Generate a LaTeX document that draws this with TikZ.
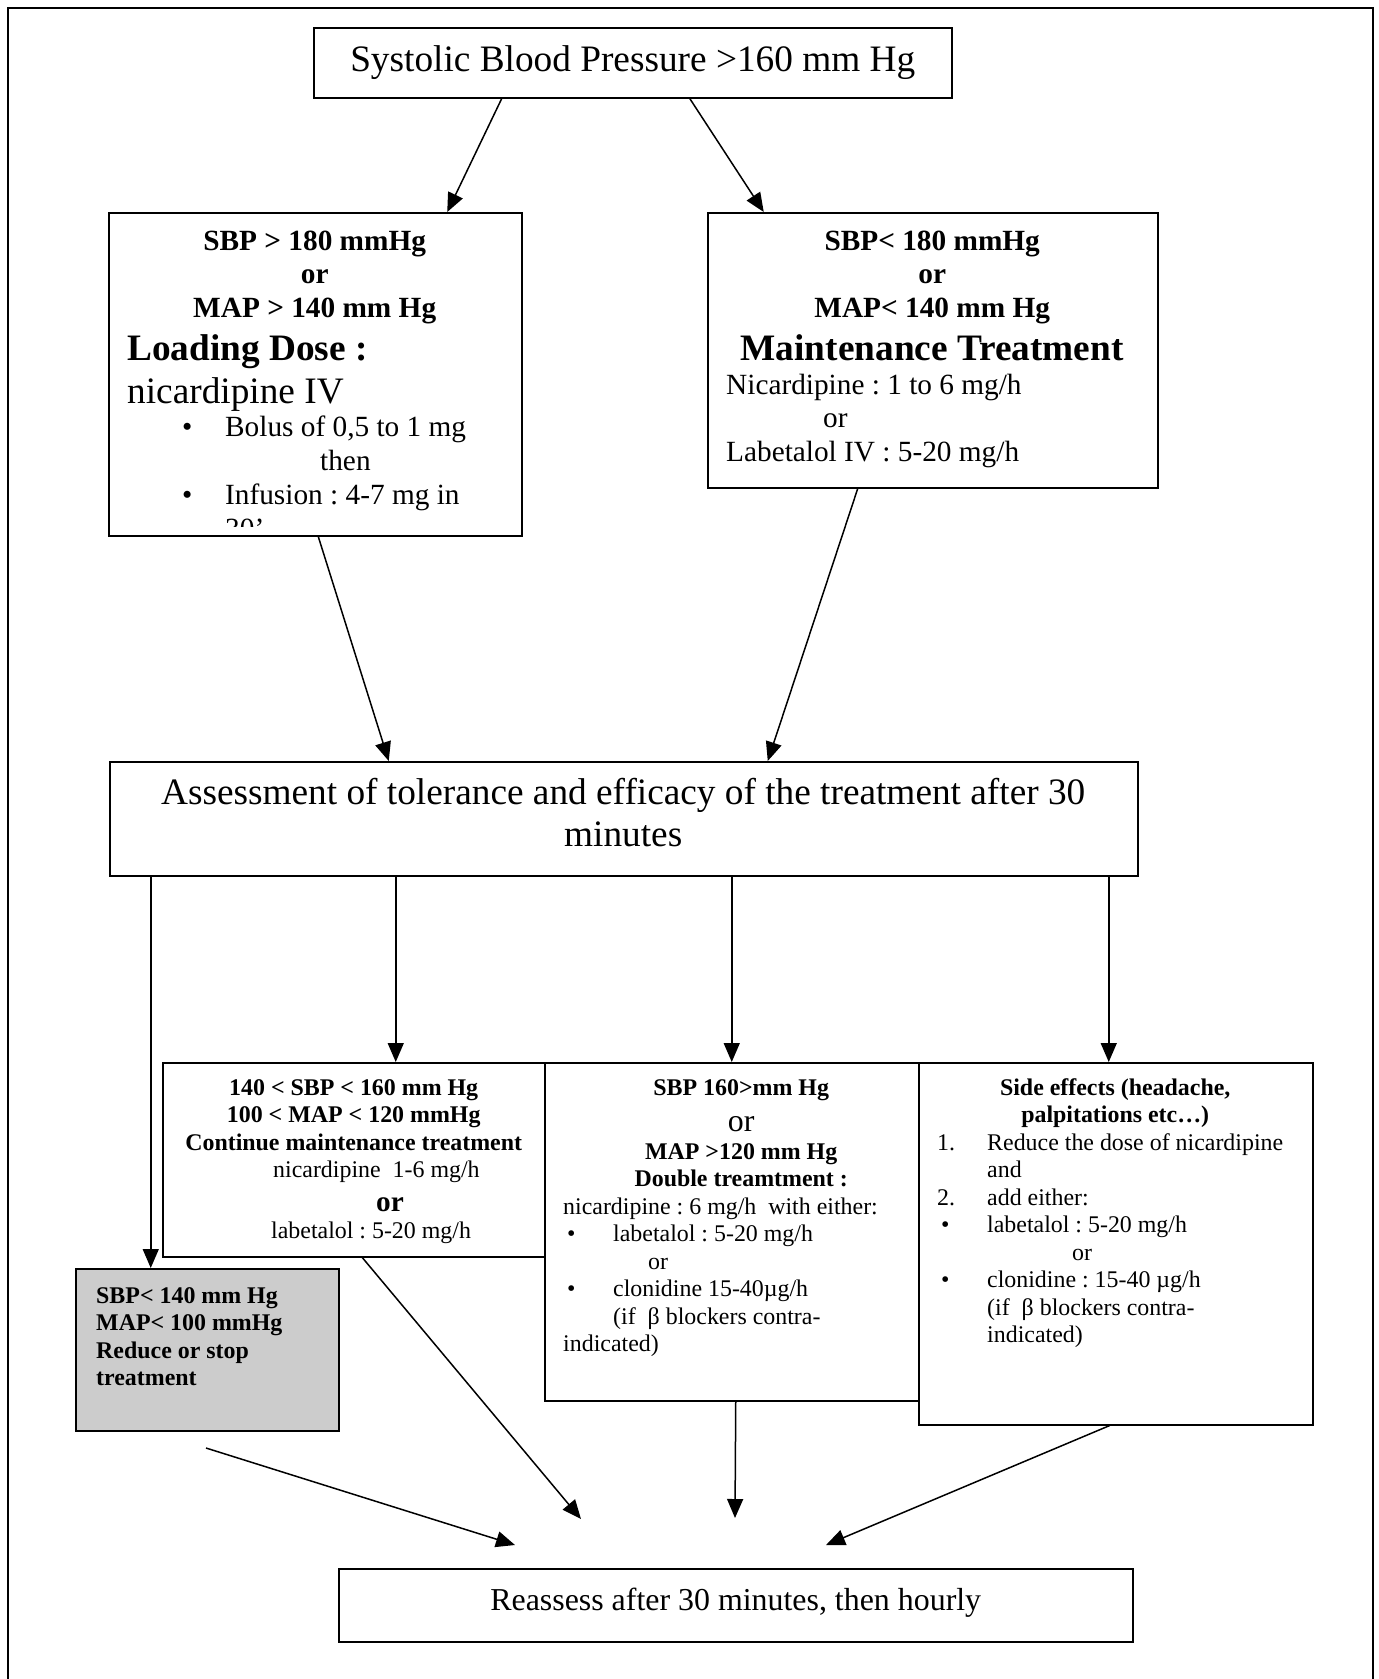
\documentclass[tikz,border=0pt]{standalone}
\usepackage{fontspec}
\setmainfont{Liberation Serif}
\usetikzlibrary{arrows.meta}
\definecolor{shade}{RGB}{204,204,204}
\newcommand\szNine{\fontsize{23.9pt}{27.5pt}\selectfont}
\newcommand\szEleven{\fontsize{29.3pt}{33.7pt}\selectfont}
\newcommand\szTwelve{\fontsize{31.9pt}{36.7pt}\selectfont}
\newcommand\szFourteen{\fontsize{37.3pt}{42.9pt}\selectfont}
\begin{document}
\begin{tikzpicture}[x=1pt, y=-1pt,
    box/.style={draw, line width=1.5pt, anchor=north west, inner sep=0pt},
    txt/.style={anchor=base west, inner sep=0pt,
        execute at begin node={\spaceskip=0pt\xspaceskip=0pt\frenchspacing}},
    arr/.style={line width=1.5pt, -{Triangle[length=19pt,width=16pt]}}]
    \useasboundingbox (0,0) rectangle (1379,1679);
    \draw[line width=1.5pt] (8,1679) -- (8,8) -- (1373,8) -- (1373,1679);

    % boxes
    \node[box, minimum width=638pt, minimum height=70pt, font=\szFourteen] (top) at (313,27) {Systolic Blood Pressure >160 mm Hg};
    \node[box, minimum width=413pt, minimum height=323pt] (load) at (108,212) {};
    \node[box, minimum width=450pt, minimum height=275pt] (maint) at (707,212) {};
    \node[box, minimum width=1028pt, minimum height=114pt] (assess) at (109,761) {};
    \node[box, minimum width=383pt, minimum height=194pt] (cont) at (162,1062) {};
    \node[box, fill=white, minimum width=394pt, minimum height=338pt] (dbl) at (544,1062) {};
    \node[box, fill=white, minimum width=394pt, minimum height=362pt] (side) at (918,1062) {};
    \node[box, fill=shade, minimum width=263pt, minimum height=162pt] (low) at (75,1268) {};
    \node[box, minimum width=794pt, minimum height=73pt, text height=20pt, text depth=10pt,
        font=\szTwelve] (again) at (338,1568) {Reassess after 30 minutes, then hourly};

    % texts
    \begin{scope}
        \clip (load.north west) rectangle ([yshift=10pt]load.south east);
        \node[txt, text width=375pt] (loadtxt) at ([shift={(19,38)}]load.north west) {%
            \centering\bfseries\szEleven SBP > 180 mmHg\\or\\MAP > 140 mm Hg\par
            \raggedright\szFourteen Loading Dose :\par
            \mdseries nicardipine IV\par
            \szEleven\hspace*{55pt}\makebox[43pt][l]{•}Bolus of 0,5 to 1 mg\\
            \hspace*{193pt}then\\
            \hspace*{55pt}\makebox[43pt][l]{•}Infusion : 4-7 mg in\\
            \hspace*{98pt}30’\par};
    \end{scope}
    \node[txt, text width=412pt] (mainttxt) at ([shift={(19,38)}]maint.north west) {%
        \centering\bfseries\szEleven SBP< 180 mmHg\\or\\MAP< 140 mm Hg\par
        \szFourteen Maintenance Treatment\par
        \raggedright\mdseries\szEleven Nicardipine : 1 to 6 mg/h\\
        \hspace*{97pt}or\\
        Labetalol IV : 5-20 mg/h\par};
    \node[txt, text width=990pt] (assesstxt) at ([shift={(19,43)}]assess.north west) {%
        \centering\szFourteen Assessment of tolerance and efficacy of the treatment after 30\\minutes\par};
    \node[txt, text width=345pt] (conttxt) at ([shift={(19,33)}]cont.north west) {%
        \centering\bfseries\szNine 140 < SBP < 160 mm Hg\\100 < MAP < 120 mmHg\\Continue maintenance treatment\par
        \raggedright\mdseries\hspace*{92pt}nicardipine\ \ 1-6 mg/h\par
        \bfseries\szEleven\hspace*{195pt}or\par
        \mdseries\szNine\hspace*{90pt}labetalol : 5-20 mg/h\par};
    \node[txt, text width=356pt] (dbltxt) at ([shift={(19,33)}]dbl.north west) {%
        \centering\bfseries\szNine SBP 160>mm Hg\par
        \mdseries\szTwelve or\par
        \bfseries\szNine MAP >120 mm Hg\\Double treamtment :\par
        \raggedright\mdseries nicardipine : 6 mg/h\ \ with either:\\
        \hspace*{4pt}\makebox[46pt][l]{•}labetalol : 5-20 mg/h\\
        \hspace*{85pt}or\\
        \hspace*{4pt}\makebox[46pt][l]{•}clonidine 15-40µg/h\\
        \hspace*{50pt}(if\ \ β blockers contra-\\
        indicated)\par};
    \node[txt, text width=356pt] (sidetxt) at ([shift={(19,33)}]side.north west) {%
        \centering\bfseries\szNine Side effects (headache,\\palpitations etc…)\par
        \raggedright\mdseries\makebox[50pt][l]{1.}Reduce the dose of nicardipine\\
        \hspace*{50pt}and\\
        \makebox[50pt][l]{2.}add either:\\
        \hspace*{4pt}\makebox[46pt][l]{•}labetalol : 5-20 mg/h\\
        \hspace*{135pt}or\\
        \hspace*{4pt}\makebox[46pt][l]{•}clonidine : 15-40 µg/h\\
        \hspace*{50pt}(if\ \ β blockers contra-\\
        \hspace*{50pt}indicated)\par};
    \node[txt, text width=225pt] (lowtxt) at ([shift={(21,35)}]low.north west) {%
        \raggedright\bfseries\szNine SBP< 140 mm Hg\\MAP< 100 mmHg\\Reduce or stop\\treatment\par};

    % arrows
    \draw[arr] ([xshift=-131pt]top.south) -- ([xshift=132pt]load.north);
    \draw[arr] ([xshift=57pt]top.south) -- ([xshift=-169pt]maint.north);
    \draw[arr] ([xshift=3pt]load.south) -- ([xshift=-235pt]assess.north);
    \draw[arr] ([xshift=-75pt]maint.south) -- ([xshift=144pt]assess.north);
    \foreach \dx/\dest in {-473/low, -228/cont, 108/dbl, 485/side}
        \draw[arr] ([xshift=\dx pt]assess.south) coordinate (s) -- (s |- \dest.north);

    \coordinate (lowout) at (206,1448);
    \coordinate (in1) at (515,1545);
    \coordinate (in2) at (581,1519);
    \coordinate (in3) at (735,1518);
    \coordinate (in4) at (826,1545);
    \draw[arr] (lowout) -- (in1);
    \draw[arr] ([xshift=8pt]cont.south) -- (in2);
    \draw[arr] ([xshift=-6pt]dbl.south) -- (in3);
    \draw[arr] ([xshift=-6pt]side.south) -- (in4);
\end{tikzpicture}
\end{document}
